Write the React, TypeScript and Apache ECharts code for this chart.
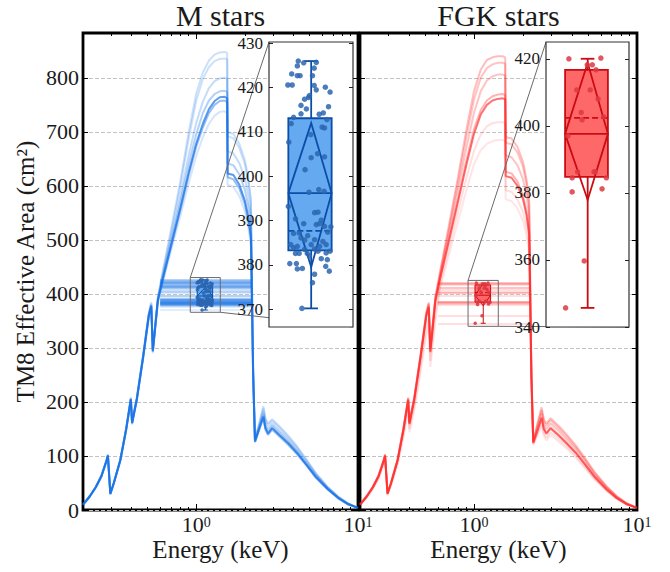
import { useEffect, useRef } from 'react';
import * as echarts from 'echarts';

const FONT = "'Liberation Serif', 'DejaVu Serif', serif";
const TXT = '#1a1a1a';

// ---------------- data ----------------
const energyKeV = [0.2, 0.22, 0.24, 0.26, 0.28, 0.285, 0.295, 0.31, 0.34, 0.37, 0.395, 0.402, 0.43, 0.47, 0.51, 0.528, 0.54, 0.58, 0.62,
  0.7, 0.8, 0.9, 1.0, 1.1, 1.2, 1.3, 1.4, 1.5, 1.555, 1.565, 1.7, 1.85, 2.0, 2.1, 2.18, 2.25, 2.31, 2.45, 2.6, 2.68, 2.78, 2.95,
  3.3, 3.7, 4.2, 4.8, 5.5, 6.5, 7.5, 8.7, 10.0];

const mCurve1 = [10, 26, 43, 64, 94, 103, 31, 51, 94, 153, 209, 164, 209, 287, 366, 385, 299, 394, 440, 520, 610, 700, 770, 810, 832, 843, 847, 848, 846, 700, 696, 678, 648, 615, 575, 265, 132, 160, 192, 170, 160, 168, 154, 138, 118, 94, 68, 43, 26, 12, 4];
const mCurve2 = [10, 26, 43, 64, 93, 102, 31, 51, 93, 152, 207, 163, 207, 285, 363, 382, 297, 392, 436, 512, 600, 688, 757, 798, 820, 831, 835, 836, 834, 692, 688, 670, 640, 607, 568, 262, 131, 158, 188, 167, 157, 165, 151, 135, 116, 92, 67, 42, 25, 12, 4];
const mCurve3 = [10, 25, 43, 63, 93, 102, 30, 50, 93, 151, 206, 162, 206, 284, 362, 380, 296, 390, 432, 502, 582, 657, 716, 756, 781, 794, 799, 800, 798, 664, 660, 642, 614, 582, 545, 258, 130, 155, 182, 161, 151, 160, 146, 131, 112, 89, 65, 41, 24, 11, 4];
const mCurve4 = [10, 25, 42, 63, 92, 101, 30, 50, 92, 150, 205, 161, 205, 283, 361, 379, 295, 389, 429, 495, 570, 640, 695, 735, 758, 770, 775, 776, 774, 642, 638, 621, 593, 562, 526, 254, 128, 152, 177, 156, 146, 156, 142, 127, 109, 86, 63, 40, 24, 11, 4];
const mCurve5 = [10, 25, 42, 63, 92, 101, 30, 50, 92, 150, 205, 161, 205, 282, 360, 378, 294, 388, 426, 490, 560, 625, 678, 715, 742, 757, 764, 765, 762, 623, 620, 602, 573, 542, 507, 250, 127, 150, 173, 152, 142, 152, 138, 124, 106, 84, 61, 39, 23, 11, 4];
const mCurve6 = [10, 25, 42, 62, 91, 100, 29, 49, 91, 149, 204, 160, 204, 281, 358, 376, 293, 386, 424, 487, 556, 620, 672, 708, 735, 750, 757, 758, 755, 616, 612, 595, 566, 536, 500, 248, 126, 149, 171, 150, 140, 150, 136, 122, 104, 83, 60, 38, 22, 10, 4];
const mCurve7 = [9, 24, 41, 61, 90, 99, 29, 48, 90, 147, 201, 158, 201, 278, 354, 372, 290, 382, 419, 480, 545, 605, 655, 690, 715, 730, 737, 738, 735, 602, 598, 581, 553, 523, 488, 244, 125, 147, 168, 147, 138, 148, 134, 120, 103, 82, 59, 38, 22, 10, 4];

const fCurve1 = [10, 26, 43, 64, 94, 103, 31, 51, 94, 153, 208, 163, 208, 287, 366, 384, 300, 395, 442, 525, 618, 705, 775, 815, 833, 838, 840, 840, 838, 690, 688, 672, 644, 612, 572, 262, 128, 160, 190, 168, 160, 170, 156, 140, 120, 96, 70, 44, 26, 12, 4];
const fCurve2 = [10, 26, 43, 64, 93, 102, 31, 51, 93, 152, 207, 162, 207, 285, 364, 382, 298, 393, 438, 518, 608, 692, 760, 800, 818, 825, 828, 828, 826, 680, 677, 662, 635, 603, 564, 258, 127, 157, 185, 164, 156, 166, 152, 136, 117, 93, 68, 43, 25, 12, 4];
const fCurve3 = [10, 25, 43, 63, 93, 102, 30, 50, 93, 151, 206, 161, 206, 284, 362, 380, 296, 390, 434, 510, 595, 672, 735, 775, 795, 803, 806, 806, 804, 656, 653, 638, 612, 582, 544, 254, 126, 153, 179, 158, 150, 160, 147, 131, 113, 90, 65, 41, 24, 11, 4];
const fCurve4 = [10, 25, 42, 63, 92, 101, 30, 50, 92, 150, 204, 160, 204, 282, 360, 377, 294, 388, 430, 500, 578, 648, 705, 740, 758, 766, 769, 770, 768, 626, 623, 608, 582, 553, 517, 248, 125, 148, 172, 152, 143, 153, 140, 125, 107, 85, 62, 39, 23, 11, 4];
const fCurve5 = [10, 25, 42, 62, 91, 100, 30, 49, 91, 149, 203, 159, 203, 281, 358, 375, 292, 386, 428, 496, 572, 640, 696, 732, 750, 758, 761, 762, 760, 618, 615, 600, 575, 546, 510, 246, 124, 146, 170, 150, 141, 151, 138, 123, 106, 84, 61, 38, 22, 10, 4];
const fCurve6 = [9, 24, 40, 60, 88, 96, 28, 47, 87, 141, 192, 150, 192, 265, 338, 355, 276, 365, 418, 482, 553, 615, 665, 695, 710, 716, 718, 718, 716, 592, 589, 575, 551, 524, 490, 240, 122, 141, 162, 143, 134, 144, 132, 118, 101, 80, 58, 37, 21, 10, 4];
const fCurve7 = [9, 23, 38, 57, 84, 92, 27, 45, 83, 135, 184, 144, 184, 254, 324, 340, 265, 350, 410, 470, 535, 593, 640, 666, 678, 683, 685, 685, 683, 575, 572, 558, 535, 508, 475, 236, 120, 137, 156, 138, 129, 139, 127, 114, 97, 77, 56, 35, 21, 10, 4];

// band-averaged effective area per star (box-plot points)
const mArea = [426.0, 425.6, 425.7, 424.9, 424.4, 423.1, 422.7, 422.7, 422.7, 420.6,
  420.6, 420.5, 419.5, 420.1, 419.0, 418.2, 417.4, 417.8, 416.0, 415.7,
  415.2, 414.0, 414.3, 414.1, 413.3, 412.8, 411.9, 411.1, 410.9, 409.4,
  407.7, 405.1, 401.5, 404.2, 404.4, 396.4, 397.0, 396.6, 393.2, 391.8,
  391.9, 390.1, 389.3, 390.4, 389.3, 389.1, 388.7, 388.6, 387.1, 387.2,
  387.4, 386.6, 386.1, 385.6, 385.7, 385.3, 384.6, 384.2, 384.6, 384.2,
  384.6, 383.9, 383.5, 383.6, 383.1, 382.7, 382.6, 382.6, 382.6, 382.0,
  383.1, 380.3, 380.3, 381.4, 381.2, 379.1, 379.2, 379.7, 378.6, 377.9,
  376.0, 370.2];
const mJitter = [-0.29, -0.17, 0.12, -0.31, 0.07, -0.43, -0.31, -0.25, 0.03, -0.51,
  -0.42, 0.07, 0.12, 0.34, 0.46, -0.04, -0.15, -0.06, -0.23, 0.42,
  -0.11, 0.19, 0.29, -0.23, -0.39, 0.38, -0.44, 0.26, 0.32, -0.01,
  -0.49, 0.15, -0.14, 0.0, 0.32, -0.05, 0.18, 0.31, -0.5, 0.08,
  0.16, 0.24, 0.2, -0.35, -0.17, 0.12, 0.32, 0.48, -0.39, -0.27,
  0.4, -0.08, -0.23, -0.15, 0.08, 0.28, -0.45, -0.31, 0.0, 0.2,
  0.36, -0.39, -0.15, 0.08, 0.46, 0.36, -0.35, -0.27, -0.09, -0.04,
  0.16, -0.47, -0.33, 0.24, 0.39, -0.31, -0.2, 0.35, 0.44, 0.08,
  0.03, -0.21];
const fArea = [420.0, 420.2, 418.2, 418.2, 416.7, 410.7, 410.7, 408.0, 401.8, 402.7, 404.0, 397.0, 386.3, 386.3, 386.3, 384.5, 384.5, 380.3, 381.2, 359.7, 345.7];
const fJitter = [-0.42, 0.32, -0.01, 0.11, 0.2, -0.25, 0.06, 0.25, -0.13, 0.39, -0.15, -0.44, -0.23, 0.18, 0.15, -0.35, 0.46, -0.35, 0.35, -0.08, -0.49];

// [whisker low, Q1, median, Q3, whisker high, mean, notch low, notch high]
const mStats = [370.2, 383.3, 396.2, 413.1, 426.0, 387.7, 379.5, 412.0];
const fStats = [345.7, 384.8, 397.6, 416.7, 420.0, 402.4, 377.9, 418.8];

const xMajorTicks = [1, 10];
const xMinorTicks = [0.2, 0.3, 0.4, 0.5, 0.6, 0.7, 0.8, 0.9, 2, 3, 4, 5, 6, 7, 8, 9];
const yTicks = [0, 100, 200, 300, 400, 500, 600, 700, 800];
const mInsetTicks = [370, 380, 390, 400, 410, 420, 430];
const fInsetTicks = [340, 360, 380, 400, 420];

// ---------------- layout / style ----------------
const BOX_POS = 1.14;
const BOX_W = 0.25;
const CAP_W = 0.08;
const ZOOM_X = [0.92, 1.41];
const BAND_E = [0.6, 2.2];
const MAIN_GRIDS = [
  { left: 83, top: 33, width: 275, height: 477 },
  { left: 360, top: 33, width: 277, height: 477 },
];
const INSETS = [
  { left: 269, top: 42, width: 84, height: 285 },
  { left: 546, top: 42, width: 83, height: 285 },
];

const panels = [
  {
    title: 'M stars', curves: [mCurve1, mCurve2, mCurve3, mCurve4, mCurve5, mCurve6, mCurve7],
    opac: [0.22, 0.22, 0.25, 0.32, 0.7, 0.45, 0.18], line: '#1470e6',
    area: mArea, jitter: mJitter, stats: mStats, zoomY: [366, 430.3], insetTicks: mInsetTicks,
    boxFill: 'rgba(84,160,238,0.9)', boxEdge: '#0a4ea8', point: '#2c66b0', bandOpac: 0.16,
  },
  {
    title: 'FGK stars', curves: [fCurve1, fCurve2, fCurve3, fCurve4, fCurve5, fCurve6, fCurve7],
    opac: [0.3, 0.28, 0.28, 0.35, 0.65, 0.15, 0.12], line: '#ff2626',
    area: fArea, jitter: fJitter, stats: fStats, zoomY: [340, 425], insetTicks: fInsetTicks,
    boxFill: 'rgba(255,96,96,0.95)', boxEdge: '#cc0a12', point: '#dc3a44', bandOpac: 0.2,
  },
];

function boxRenderer(stats: number[], edge: string, fill: string, lw: number, dash: number[]) {
  return (_params: any, api: any) => {
    const [lo, q1, med, q3, hi, mean, nLo, nHi] = stats;
    const X = (e: number) => api.coord([e, med])[0];
    const Y = (v: number) => api.coord([BOX_POS, v])[1];
    const L = X(BOX_POS - BOX_W / 2), R = X(BOX_POS + BOX_W / 2), C = X(BOX_POS);
    const cl = X(BOX_POS - CAP_W / 2), cr = X(BOX_POS + CAP_W / 2);
    const ls = { stroke: edge, lineWidth: lw, fill: 'none' };
    return {
      type: 'group',
      children: [
        { type: 'rect', shape: { x: L, y: Y(q3), width: R - L, height: Y(q1) - Y(q3) }, style: { fill, stroke: edge, lineWidth: lw } },
        { type: 'polyline', shape: { points: [[L, Y(med)], [C, Y(nHi)], [R, Y(med)], [C, Y(nLo)], [L, Y(med)]] }, style: ls },
        { type: 'line', shape: { x1: L, y1: Y(med), x2: R, y2: Y(med) }, style: ls },
        { type: 'line', shape: { x1: L, y1: Y(mean), x2: R, y2: Y(mean) }, style: { ...ls, lineDash: dash } },
        { type: 'line', shape: { x1: C, y1: Y(q3), x2: C, y2: Y(hi) }, style: ls },
        { type: 'line', shape: { x1: C, y1: Y(q1), x2: C, y2: Y(lo) }, style: ls },
        { type: 'line', shape: { x1: cl, y1: Y(hi), x2: cr, y2: Y(hi) }, style: ls },
        { type: 'line', shape: { x1: cl, y1: Y(lo), x2: cr, y2: Y(lo) }, style: ls },
      ],
    };
  };
}

function zoomRenderer(zoomY: number[], inset: { left: number; top: number; width: number; height: number }) {
  return (_params: any, api: any) => {
    const p1 = api.coord([ZOOM_X[0], zoomY[1]]);
    const p2 = api.coord([ZOOM_X[1], zoomY[0]]);
    const st = { stroke: '#6a6a6a', lineWidth: 1, fill: 'none' };
    return {
      type: 'group',
      children: [
        { type: 'rect', shape: { x: p1[0], y: p1[1], width: p2[0] - p1[0], height: p2[1] - p1[1] }, style: st },
        { type: 'line', shape: { x1: p1[0], y1: p1[1], x2: inset.left, y2: inset.top }, style: st },
        { type: 'line', shape: { x1: p2[0], y1: p2[1], x2: inset.left + inset.width, y2: inset.top + inset.height }, style: st },
      ],
    };
  };
}

const tickLine = { color: '#000', width: 1 };

function buildOption() {
  const grids: any[] = [];
  const xs: any[] = [];
  const ys: any[] = [];
  const series: any[] = [];

  MAIN_GRIDS.forEach((g) => grids.push({
    ...g, containLabel: false, outerBoundsMode: 'none', show: true,
    backgroundColor: 'rgba(0,0,0,0)', borderColor: '#000', borderWidth: 2.8,
  }));
  INSETS.forEach((g) => grids.push({
    ...g, containLabel: false, outerBoundsMode: 'none', show: true,
    backgroundColor: '#fff', borderColor: '#333', borderWidth: 1.2, z: 10,
  }));

  panels.forEach((p, k) => {
    const base = { type: 'log', logBase: 10, gridIndex: k, min: 0.2, max: 10, splitLine: { show: false }, axisLine: { show: false, onZero: false } };
    xs.push({
      ...base, position: 'bottom',
      axisTick: { show: true, inside: true, length: 6, customValues: xMajorTicks, lineStyle: tickLine },
      axisLabel: {
        show: true, customValues: xMajorTicks, margin: 5,
        formatter: (v: number) => `{b|10}{s|${Math.round(Math.log10(v))}}`,
        rich: {
          b: { fontSize: 22, fontFamily: FONT, color: TXT, lineHeight: 20, verticalAlign: 'bottom' },
          s: { fontSize: 14, fontFamily: FONT, color: TXT, lineHeight: 8, verticalAlign: 'top' },
        },
      },
      name: 'Energy (keV)', nameLocation: 'middle', nameGap: 27, nameMoveOverlap: false,
      nameTextStyle: { fontSize: 25, fontFamily: FONT, color: TXT },
    });
    xs.push({
      ...base, position: 'bottom',
      axisTick: { show: true, inside: true, length: 3, customValues: xMinorTicks, lineStyle: tickLine },
      axisLabel: { show: false },
    });
    xs.push({
      ...base, position: 'top',
      axisTick: { show: true, inside: true, length: 6, customValues: xMajorTicks, lineStyle: tickLine },
      axisLabel: { show: false },
      name: p.title, nameLocation: 'middle', nameGap: 3, nameMoveOverlap: false,
      nameTextStyle: { fontSize: 30, fontFamily: FONT, color: TXT },
    });
    xs.push({
      ...base, position: 'top',
      axisTick: { show: true, inside: true, length: 3, customValues: xMinorTicks, lineStyle: tickLine },
      axisLabel: { show: false },
    });

    ys.push({
      type: 'value', gridIndex: k, min: 0, max: 883, position: 'left',
      axisLine: { show: false, onZero: false },
      axisTick: { show: true, inside: true, length: 5, customValues: yTicks, lineStyle: tickLine },
      axisLabel: { show: k === 0, customValues: yTicks, fontSize: 22, fontFamily: FONT, color: TXT, margin: 4 },
      splitLine: { show: true, lineStyle: { type: [4, 2], color: '#c2c2c2', width: 1 } },
      name: k === 0 ? 'TM8 Effective Area (cm²)' : '', nameLocation: 'middle', nameGap: 45, nameMoveOverlap: false,
      nameTextStyle: { fontSize: 25, fontFamily: FONT, color: TXT },
    });
    ys.push({
      type: 'value', gridIndex: k, min: 0, max: 883, position: 'right',
      axisLine: { show: false, onZero: false },
      axisTick: { show: true, inside: true, length: 5, customValues: yTicks, lineStyle: tickLine },
      axisLabel: { show: false }, splitLine: { show: false },
    });

    const xi = k * 4;
    const yi = k * 2;
    p.curves.forEach((c, ci) => {
      series.push({
        type: 'line', xAxisIndex: xi, yAxisIndex: yi, z: 2, silent: true,
        data: energyKeV.map((e, i) => [e, c[i]]), showSymbol: false, symbol: 'none',
        lineStyle: { color: p.line, width: 2, opacity: p.opac[ci] },
      });
    });
    series.push({
      type: 'lines', coordinateSystem: 'cartesian2d', xAxisIndex: xi, yAxisIndex: yi, z: 2, silent: true,
      data: p.area.map((v) => ({ coords: [[BAND_E[0], v], [BAND_E[1], v]] })),
      lineStyle: { color: p.line, width: 1.5, opacity: p.bandOpac },
    });
    series.push({
      type: 'custom', xAxisIndex: xi, yAxisIndex: yi, z: 3, silent: true,
      data: [[ZOOM_X[0], p.zoomY[1]]], renderItem: zoomRenderer(p.zoomY, INSETS[k]),
    });
    series.push({
      type: 'custom', xAxisIndex: xi, yAxisIndex: yi, z: 3, silent: true,
      data: [[BOX_POS, p.stats[2]]], renderItem: boxRenderer(p.stats, p.boxEdge, p.boxFill, 1, [3, 2]),
    });
    series.push({
      type: 'scatter', xAxisIndex: xi, yAxisIndex: yi, z: 4, silent: true, symbolSize: 3.5,
      data: p.jitter.map((u, i) => [BOX_POS + u * BOX_W, p.area[i]]),
      itemStyle: { color: p.point, opacity: 0.9 },
    });
  });

  panels.forEach((p, k) => {
    xs.push({ type: 'log', logBase: 10, gridIndex: 2 + k, min: ZOOM_X[0], max: ZOOM_X[1], show: false });
  });
  panels.forEach((p, k) => {
    ys.push({
      type: 'value', gridIndex: 2 + k, min: p.zoomY[0], max: p.zoomY[1], position: 'left', z: 11,
      axisLine: { show: false, onZero: false },
      axisTick: { show: true, inside: true, length: 4, customValues: p.insetTicks, lineStyle: { color: '#222', width: 1 } },
      axisLabel: { show: true, customValues: p.insetTicks, fontSize: 17, fontFamily: FONT, color: TXT, margin: 6 },
      splitLine: { show: false },
    });
    ys.push({
      type: 'value', gridIndex: 2 + k, min: p.zoomY[0], max: p.zoomY[1], position: 'right', z: 11,
      axisLine: { show: false, onZero: false },
      axisTick: { show: true, inside: true, length: 4, customValues: p.insetTicks, lineStyle: { color: '#222', width: 1 } },
      axisLabel: { show: false }, splitLine: { show: false },
    });
    series.push({
      type: 'custom', xAxisIndex: 8 + k, yAxisIndex: 4 + 2 * k, z: 12, silent: true,
      data: [[BOX_POS, p.stats[2]]], renderItem: boxRenderer(p.stats, p.boxEdge, p.boxFill, 1.8, [6, 3]),
    });
    series.push({
      type: 'scatter', xAxisIndex: 8 + k, yAxisIndex: 4 + 2 * k, z: 13, silent: true, symbolSize: 5.5,
      data: p.jitter.map((u, i) => [BOX_POS + u * BOX_W, p.area[i]]),
      itemStyle: { color: p.point, opacity: 0.85 },
    });
  });

  return {
    animation: false,
    backgroundColor: '#fff',
    textStyle: { fontFamily: FONT },
    grid: grids,
    xAxis: xs,
    yAxis: ys,
    series,
  };
}

export default function App() {
  const ref = useRef<HTMLDivElement>(null);
  useEffect(() => {
    document.body.style.margin = '0';
    const chart = echarts.init(ref.current as HTMLDivElement, null, { renderer: 'svg' });
    chart.setOption(buildOption() as any);
    return () => chart.dispose();
  }, []);
  return <div ref={ref} style={{ width: 670, height: 572 }} />;
}
